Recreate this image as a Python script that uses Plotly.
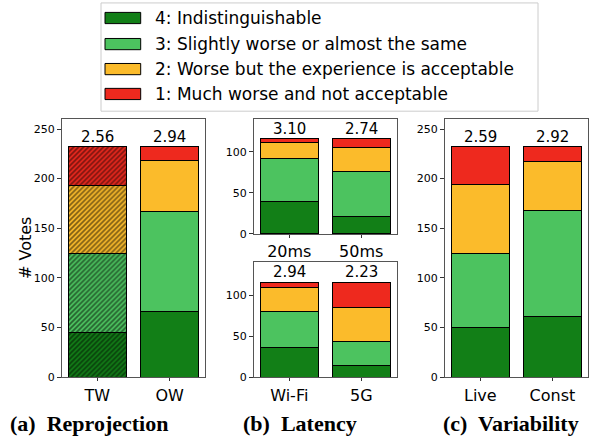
import plotly.graph_objects as go

# ---------------- data ----------------
level_labels = [
    "4: Indistinguishable",
    "3: Slightly worse or almost the same",
    "2: Worse but the experience is acceptable",
    "1: Much worse and not acceptable",
]
level_scores = [4, 3, 2, 1]
level_colors = ["#127f17", "#4cc35f", "#fbbb2b", "#ee291e"]

reproj_cats = ["TW", "OW"]
reproj_4 = [45, 66]
reproj_3 = [80, 101]
reproj_2 = [68, 51]
reproj_1 = [39, 14]
reproj_hatch = ["/", ""]

latency_cats = ["20ms", "50ms"]
latency_4 = [40, 21]
latency_3 = [52, 55]
latency_2 = [20, 29]
latency_1 = [4, 11]

network_cats = ["Wi-Fi", "5G"]
network_4 = [36, 14]
network_3 = [44, 30]
network_2 = [29, 41]
network_1 = [7, 31]

var_cats = ["Live", "Const"]
var_4 = [50, 61]
var_3 = [75, 107]
var_2 = [69, 49]
var_1 = [38, 15]

captions = ["(a)  Reprojection", "(b)  Latency", "(c)  Variability"]
y_title = "# Votes"

# ---------------- figure ----------------
W, H = 595, 439
fig = go.Figure()

panels = [
    (reproj_cats, [reproj_4, reproj_3, reproj_2, reproj_1], "x", "y", reproj_hatch),
    (latency_cats, [latency_4, latency_3, latency_2, latency_1], "x2", "y2", None),
    (network_cats, [network_4, network_3, network_2, network_1], "x3", "y3", None),
    (var_cats, [var_4, var_3, var_2, var_1], "x4", "y4", None),
]

for cats, series, xa, ya, hatch in panels:
    for vals, col in zip(series, level_colors):
        marker = dict(color=col, line=dict(color="black", width=1))
        if hatch is not None:
            marker["pattern"] = dict(shape=hatch, fgcolor="black", bgcolor=col,
                                     size=3.5, solidity=0.5, fillmode="overlay")
        fig.add_trace(go.Bar(x=cats, y=vals, width=0.8, marker=marker,
                             xaxis=xa, yaxis=ya, showlegend=False))
    totals = [sum(v) for v in zip(*series)]
    for i, c in enumerate(cats):
        mean = sum(s * v[i] for s, v in zip(level_scores, series)) / totals[i]
        fig.add_annotation(x=c, y=totals[i], xref=xa, yref=ya, text=f"{mean:.2f}",
                           showarrow=False, xanchor="center", yanchor="bottom",
                           yshift=-1,
                           font=dict(family="DejaVu Sans", size=15, color="black"))

def px_x(p):
    return p / W

def px_y(p):
    return 1 - p / H

frame = dict(showline=True, mirror=True, linecolor="#555555", linewidth=1.3,
             showgrid=False, zeroline=False, ticks="outside", ticklen=4,
             tickcolor="#333333")

domains = {
    "a": ([px_x(62), px_x(205)], [px_y(383.3), px_y(121)]),
    "b1": ([px_x(254), px_x(396.5)], [px_y(237.7), px_y(121)]),
    "b2": ([px_x(254), px_x(396.5)], [px_y(383.3), px_y(266.7)]),
    "c": ([px_x(445), px_x(587.7)], [px_y(383.3), px_y(121)]),
}

xfont = dict(family="DejaVu Sans", size=16, color="black")
yfont = dict(family="DejaVu Sans", size=11, color="black")

layout_axes = {}
for idx, (key, ymax, dt) in enumerate([("a", 260, 50), ("b1", 140, 50),
                                       ("b2", 140, 50), ("c", 260, 50)], start=1):
    xd, yd = domains[key]
    sx = "" if idx == 1 else str(idx)
    layout_axes["xaxis" + sx] = dict(frame, domain=xd, anchor="y" + sx,
                                     range=[-0.49, 1.49], tickfont=xfont,
                                     ticklen=3)
    layout_axes["yaxis" + sx] = dict(frame, domain=yd, anchor="x" + sx,
                                     range=[0, ymax], dtick=dt, tickfont=yfont)

fig.update_layout(**layout_axes)

# y-axis title
fig.add_annotation(x=px_x(26), y=px_y(252), xref="paper", yref="paper",
                   text=y_title, textangle=-90, showarrow=False,
                   xanchor="center", yanchor="middle",
                   font=dict(family="DejaVu Sans", size=16, color="black"))

# captions
for cap, cx in zip(captions, [89, 300, 511]):
    fig.add_annotation(x=px_x(cx), y=px_y(430), xref="paper", yref="paper",
                       text=f"<b>{cap}</b>", showarrow=False,
                       xanchor="center", yanchor="middle",
                       font=dict(family="Liberation Serif", size=22, color="black"))

# legend (drawn manually)
shapes = [dict(type="rect", xref="paper", yref="paper",
               x0=px_x(101), x1=px_x(538), y0=px_y(113), y1=px_y(3),
               line=dict(color="#cccccc", width=1), fillcolor="white",
               layer="below")]
row_centers = [18.3, 44.8, 70.2, 95.5]
for lab, col, yc in zip(level_labels, level_colors, row_centers):
    shapes.append(dict(type="rect", xref="paper", yref="paper",
                       x0=px_x(105), x1=px_x(140.7), y0=px_y(yc + 5.7), y1=px_y(yc - 5.7),
                       line=dict(color="black", width=1), fillcolor=col))
    fig.add_annotation(x=px_x(153), y=px_y(yc), xref="paper", yref="paper",
                       text=lab, showarrow=False, xanchor="left", yanchor="middle",
                       font=dict(family="DejaVu Sans", size=17, color="black"))

fig.update_layout(shapes=shapes, barmode="stack", width=W, height=H,
                  margin=dict(l=0, r=0, t=0, b=0), paper_bgcolor="white",
                  plot_bgcolor="white", bargap=0.2, showlegend=False)

fig.write_html("out.html", config={"displayModeBar": False},
               post_script="document.body.style.margin='0';document.body.style.padding='0';")
